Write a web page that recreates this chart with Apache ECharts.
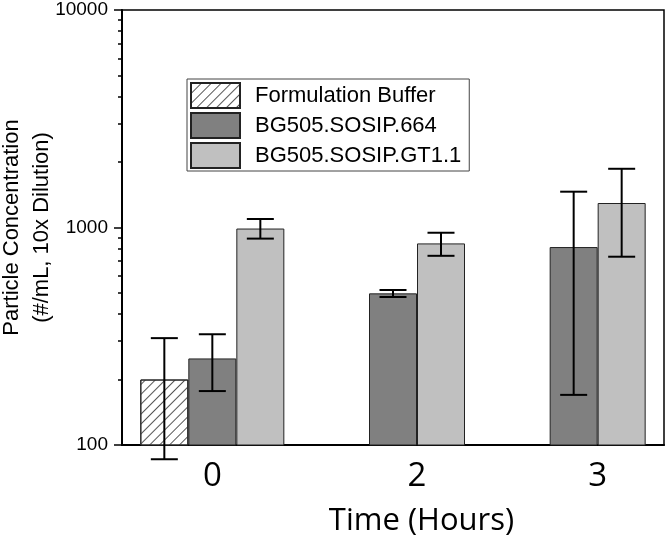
<!DOCTYPE html>
<html>
<head>
<meta charset="utf-8">
<script src="https://cdn.jsdelivr.net/npm/echarts@6/dist/echarts.min.js"></script>
<style>
html,body{margin:0;padding:0;background:#fff;}
#chart{width:667px;height:538px;}
</style>
</head>
<body>
<div id="chart"></div>
<script>
// ---- data ----
const categories = ['0', '2', '3'];
const seriesNames = ['Formulation Buffer', 'BG505.SOSIP.664', 'BG505.SOSIP.GT1.1'];
const bufferValues = [200, null, null];
const sosip664Values = [250, 498, 813];
const gt11Values = [989, 845, 1296];
const bufferErrLow = [86, null, null];
const bufferErrHigh = [310, null, null];
const sosip664ErrLow = [177, 479, 170];
const sosip664ErrHigh = [323, 516, 1461];
const gt11ErrLow = [889, 741, 734];
const gt11ErrHigh = [1094, 946, 1862];
const minorTickValues = [200, 300, 400, 500, 600, 700, 800, 900, 2000, 3000, 4000, 5000, 6000, 7000, 8000, 9000];

// ---- styles ----
const BAR_W = 48;
const FONT = 'Liberation Sans';
const barStyles = [
  { color: '#ffffff', borderColor: '#222', borderWidth: 1,
    decal: { symbol: 'rect', symbolSize: 1, dashArrayX: [1, 0], dashArrayY: [1, 6], rotation: -Math.PI / 4, color: '#555' } },
  { color: '#808080', borderColor: '#222', borderWidth: 1 },
  { color: '#c0c0c0', borderColor: '#222', borderWidth: 1 }
];
const values = [bufferValues, sosip664Values, gt11Values];
const errLow = [bufferErrLow, sosip664ErrLow, gt11ErrLow];
const errHigh = [bufferErrHigh, sosip664ErrHigh, gt11ErrHigh];

const barSeries = seriesNames.map((name, s) => ({
  type: 'bar', name: name, data: values[s],
  barWidth: BAR_W, barGap: '0%',
  itemStyle: barStyles[s]
}));

function makeErr(s) {
  const slot = s - 1;
  const data = [];
  categories.forEach((c, i) => {
    if (errLow[s][i] != null) data.push([i, errLow[s][i], errHigh[s][i]]);
  });
  return {
    type: 'custom', name: seriesNames[s] + ' err', data: data, z: 5,
    encode: { x: 0, y: [1, 2] },
    renderItem: function (params, api) {
      const lo = api.coord([api.value(0), api.value(1)]);
      const hi = api.coord([api.value(0), api.value(2)]);
      const cx = lo[0] + slot * BAR_W;
      const hw = 13.5;
      const st = { stroke: '#000', lineWidth: 2, fill: null };
      return {
        type: 'group', children: [
          { type: 'line', shape: { x1: cx, y1: lo[1], x2: cx, y2: hi[1] }, style: st },
          { type: 'line', shape: { x1: cx - hw, y1: lo[1], x2: cx + hw, y2: lo[1] }, style: st },
          { type: 'line', shape: { x1: cx - hw, y1: hi[1], x2: cx + hw, y2: hi[1] }, style: st }
        ]
      };
    }
  };
}

const chart = echarts.init(document.getElementById('chart'));
chart.setOption({
  animation: false,
  backgroundColor: '#fff',
  textStyle: { fontFamily: FONT },
  grid: { left: 122, right: 3, top: 10, bottom: 93, containLabel: false, outerBoundsMode: 'none',
    show: true, borderColor: '#000', borderWidth: 1.5, backgroundColor: 'transparent' },
  legend: {
    data: seriesNames, orient: 'vertical', left: 187, top: 79,
    itemWidth: 49, itemHeight: 25, itemGap: 3, icon: 'rect',
    borderColor: '#444', borderWidth: 1, padding: [3, 8, 2, 3],
    selectedMode: false,
    textStyle: { fontSize: 22, fontFamily: FONT, color: '#000', padding: [0, 0, 0, 10] }
  },
  xAxis: {
    type: 'category', data: categories,
    axisTick: { show: false },
    axisLine: { lineStyle: { color: '#000', width: 2 } },
    axisLabel: {
      margin: 15, color: '#000',
      formatter: function (v, i) { return i === 0 ? '{c|' + v + '}' : '{s|' + v + '}'; },
      rich: {
        c: { fontSize: 33, fontFamily: 'Open Sans', color: '#000' },
        s: { fontSize: 33, fontFamily: 'Open Sans', color: '#000', padding: [0, 0, 0, 48] }
      }
    },
    name: 'Time (Hours)', nameLocation: 'middle', nameGap: 61, nameMoveOverlap: false,
    nameTextStyle: { fontSize: 31, fontFamily: 'Open Sans', color: '#000', padding: [0, 0, 0, 57] }
  },
  yAxis: [
    {
      type: 'log', logBase: 10, min: 100, max: 10000,
      axisLine: { show: true, lineStyle: { color: '#000', width: 2 } },
      axisTick: { show: true, length: 8, lineStyle: { color: '#000', width: 1.5 } },
      axisLabel: { fontSize: 19, color: '#000', margin: 14, formatter: function (v) { return String(v); } },
      splitLine: { show: false },
      name: 'Particle Concentration\n(#/mL, 10x Dilution)',
      nameLocation: 'middle', nameRotate: 90, nameGap: 65, nameMoveOverlap: false,
      nameTextStyle: { fontSize: 22, color: '#000', lineHeight: 30, align: 'center' }
    },
    {
      type: 'log', logBase: 10, min: 100, max: 10000, position: 'left',
      axisLine: { show: false },
      axisTick: { show: true, length: 4, customValues: minorTickValues, lineStyle: { color: '#000', width: 1.5 } },
      axisLabel: { show: false },
      splitLine: { show: false }
    }
  ],
  series: barSeries.concat([makeErr(0), makeErr(1), makeErr(2)])
});
</script>
</body>
</html>
